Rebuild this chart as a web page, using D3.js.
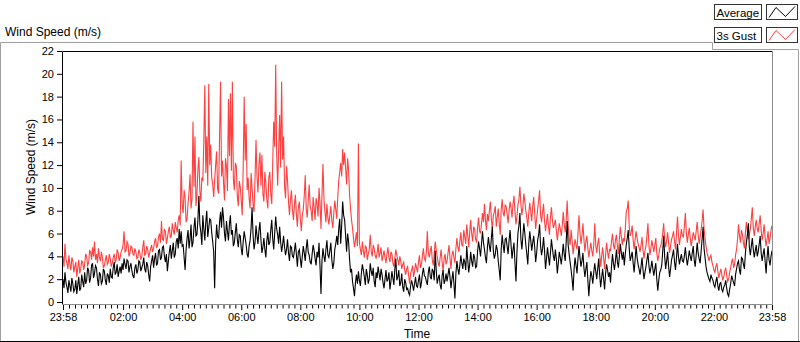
<!DOCTYPE html>
<html><head><meta charset="utf-8">
<script src="https://cdn.jsdelivr.net/npm/d3@7"></script>
<style>
html,body{margin:0;padding:0;background:#fff;}
svg{display:block;font-family:"Liberation Sans",Arial,sans-serif;}
</style></head><body>
<svg id="c" width="800" height="342"></svg>
<script>
// minutes between samples, starting at 23:58
const sampleMinutes = 2;
// 3s Gust (m/s), one row per hour
const gust = [
4.0,3.1,5.1,3.8,3.4,2.9,4.1,3.3,2.8,3.9,3.6,2.6,3.1,3.5,2.2,3.0,3.7,2.5,2.9,3.6,3.5,2.8,3.3,4.2,4.0,3.2,3.4,4.5,4.4,3.7,
4.8,4.0,5.3,3.7,4.2,3.4,4.7,3.9,3.6,4.4,3.9,3.0,3.2,3.7,4.1,3.3,3.5,4.2,3.8,3.1,3.4,3.9,4.2,3.5,3.7,4.6,4.3,3.6,3.9,4.4,
4.6,5.0,6.2,4.4,4.5,5.3,5.1,4.0,4.3,4.9,4.8,4.2,4.1,4.7,4.4,3.8,3.9,4.6,4.3,3.7,4.0,4.8,5.4,4.1,4.2,4.9,4.6,3.9,4.3,4.7,
5.0,4.4,4.7,5.3,5.6,4.8,4.9,5.7,6.0,5.2,7.1,5.5,5.4,6.4,6.2,5.1,5.6,6.2,6.6,5.6,5.8,6.9,6.3,5.9,7.0,6.5,6.1,7.2,7.6,6.7,
12.4,8.5,7.8,9.8,9.1,7.0,7.3,8.7,9.6,11.2,8.2,9.0,15.8,10.1,14.5,8.4,9.4,11.6,12.7,9.7,8.8,10.9,10.6,14.0,19.0,11.3,14.5,10.2,19.1,12.0,
13.8,10.9,10.4,9.2,10.7,12.0,13.2,9.9,9.5,14.6,19.3,11.0,12.4,10.5,8.9,12.6,11.9,9.7,17.8,12.8,18.3,11.5,19.3,10.8,9.8,12.2,11.9,9.3,8.4,10.6,
10.1,8.9,7.6,11.8,18.0,12.4,15.6,9.8,10.9,9.1,8.2,11.3,10.0,8.6,7.9,10.8,14.2,11.0,9.6,12.1,13.1,10.2,12.9,9.5,8.8,11.4,10.4,9.0,8.2,10.9,
11.4,9.5,8.6,12.3,15.8,13.6,20.8,12.9,10.2,13.4,16.4,11.8,19.3,12.5,14.5,10.1,9.1,11.9,10.7,8.8,7.6,9.0,9.8,8.1,7.2,8.5,9.4,7.7,6.6,8.3,
8.8,7.3,6.2,7.6,8.1,9.3,11.1,8.2,7.4,8.9,10.3,8.4,8.0,7.1,9.2,8.3,7.2,9.1,8.6,7.5,10.0,8.7,6.4,9.4,12.1,9.0,7.9,7.0,8.6,7.4,
6.8,7.6,8.4,7.1,6.5,7.8,8.9,8.1,7.3,9.2,10.6,11.4,12.2,11.0,13.4,12.0,13.1,11.7,10.3,12.6,11.6,9.4,8.2,7.2,6.5,5.6,4.8,5.4,6.1,4.9,
13.9,5.2,4.6,4.1,5.3,4.5,3.9,4.9,4.8,3.7,4.2,4.6,5.9,4.4,4.0,5.0,4.7,4.1,3.8,4.3,5.1,3.9,4.3,4.8,3.6,4.0,4.5,3.9,3.4,4.2,
4.8,3.9,3.5,4.4,4.2,3.4,3.1,3.8,4.6,4.1,3.7,3.2,4.0,3.6,2.9,3.3,3.5,2.8,2.4,2.9,3.1,2.3,1.6,2.5,2.8,3.2,2.2,2.7,3.4,3.0,
2.6,3.5,4.1,3.0,3.3,4.0,4.7,3.8,3.6,4.4,6.2,4.3,3.9,4.5,4.9,3.7,3.2,4.2,5.3,4.6,4.0,3.4,3.1,3.9,4.6,3.5,2.7,3.8,4.2,3.3,
3.6,4.3,5.0,3.8,2.9,4.1,4.5,3.9,3.4,4.7,5.6,4.8,4.4,5.3,6.1,5.0,4.9,6.3,5.7,5.1,6.8,5.9,4.8,6.1,7.2,6.0,5.3,6.6,6.4,5.5,
5.2,6.5,7.4,6.2,6.0,6.9,7.8,7.0,8.6,7.2,6.3,7.7,7.1,8.0,8.8,7.3,6.4,7.6,7.9,8.4,6.6,7.4,8.2,6.9,5.9,8.1,9.0,7.8,7.5,8.5,
8.4,7.7,6.9,8.0,8.8,8.2,7.4,8.6,9.3,7.9,6.8,7.5,8.5,9.0,10.1,8.6,7.6,8.3,9.5,8.8,8.0,7.4,6.6,7.8,8.7,7.9,7.1,8.4,9.2,7.8,
6.4,7.3,8.1,8.9,9.8,7.6,7.0,7.9,8.6,7.1,6.2,7.0,7.7,6.6,5.9,7.4,8.3,7.2,6.5,6.8,7.2,6.3,5.4,6.2,6.9,6.4,5.8,6.7,7.9,6.8,
6.1,7.2,8.9,6.8,5.6,5.0,6.3,5.4,4.2,4.9,5.5,5.0,4.6,6.1,7.6,6.0,5.1,5.8,6.9,5.5,4.4,5.3,5.8,4.7,3.9,4.6,5.2,4.5,4.0,5.0,
6.9,5.0,4.3,5.1,5.6,4.2,3.1,4.0,4.8,3.9,2.9,4.1,5.2,4.4,3.8,4.6,4.5,5.3,6.0,5.0,4.6,5.4,5.9,4.9,4.2,5.5,6.6,5.7,5.0,5.6,
5.3,6.4,7.9,8.2,8.9,6.6,5.8,6.1,6.7,5.4,4.6,5.5,6.2,5.6,5.1,4.8,4.4,5.0,5.7,4.6,3.8,4.5,4.9,5.8,6.9,5.0,4.1,4.7,5.4,4.9,
4.4,5.0,5.6,4.3,3.6,4.1,4.7,4.9,5.3,6.0,6.9,5.5,4.8,5.4,6.1,5.2,4.3,4.9,5.5,5.8,6.2,5.3,4.6,6.0,7.5,5.9,5.0,5.7,6.4,5.8,
5.7,6.6,7.8,6.1,5.2,5.9,6.5,5.6,4.9,5.5,6.1,5.8,5.4,6.2,7.0,5.9,5.1,5.7,6.3,7.1,8.1,6.4,5.6,4.9,4.3,4.0,3.6,3.9,4.1,3.5,
3.2,2.8,2.6,3.1,3.4,2.7,2.1,2.5,2.9,2.4,1.9,2.2,2.7,3.0,2.3,1.8,2.0,2.6,3.0,3.5,3.8,3.0,3.3,4.1,4.6,5.5,6.8,5.8,5.2,6.3,
5.9,5.2,4.7,6.1,7.0,6.2,5.5,5.9,6.4,7.3,8.3,6.5,5.8,6.6,7.2,6.4,6.1,6.9,7.6,6.3,5.4,6.0,6.8,5.7,4.9,5.5,6.2,5.1,5.6,6.3,6.7
];
// Average (m/s), one row per hour
const average = [
2.0,1.2,2.6,1.7,1.3,0.8,1.9,1.4,0.9,2.1,1.6,0.9,1.1,1.9,0.7,1.5,2.2,1.0,1.2,2.4,1.8,1.3,2.6,1.6,1.9,3.0,2.8,1.7,2.1,3.2,
3.4,2.1,2.5,3.2,3.0,2.0,1.4,2.6,2.4,1.6,1.8,2.9,2.7,1.9,1.5,2.5,2.3,1.7,2.9,2.2,2.1,3.0,3.5,2.4,2.6,3.3,2.2,2.7,3.1,2.5,
3.4,2.8,3.8,3.3,2.9,3.7,3.6,2.6,3.1,3.4,2.7,2.3,2.1,3.0,3.3,2.5,2.8,3.6,3.5,2.7,3.0,3.3,3.9,2.9,2.6,3.5,3.2,2.4,1.8,3.1,
3.6,4.1,3.0,3.8,4.3,3.2,3.4,4.5,4.6,3.7,3.9,4.8,4.9,4.0,3.5,4.2,2.7,3.6,4.4,5.0,3.8,4.5,5.2,3.9,4.2,5.3,5.6,4.7,6.4,5.1,
6.2,4.9,5.0,3.9,2.8,4.6,5.6,6.3,4.7,5.5,6.8,4.8,5.2,6.5,7.4,5.8,5.9,7.2,9.3,6.8,6.1,5.0,7.6,6.4,5.4,7.0,8.0,5.7,6.5,7.3,
7.2,6.1,5.3,4.4,1.2,5.1,6.8,5.7,5.6,7.0,7.9,6.5,8.3,7.4,6.0,5.3,7.1,6.2,5.4,6.8,7.6,5.9,6.3,4.9,5.2,6.1,6.9,5.5,4.8,5.9,
5.8,4.7,4.1,5.3,6.2,5.6,5.0,4.2,3.9,4.9,5.4,6.5,8.3,5.9,4.6,5.2,6.7,5.8,5.1,6.3,7.0,5.5,4.3,4.8,5.6,4.6,3.9,5.4,6.1,5.0,
5.2,6.3,7.2,5.5,4.6,6.1,7.5,6.4,5.9,5.1,6.6,5.3,4.4,5.0,5.8,4.8,4.1,4.6,5.5,4.3,3.6,4.9,4.8,4.0,3.9,4.5,5.2,4.2,3.1,4.4,
4.6,3.8,3.0,4.0,4.9,4.3,3.6,4.7,5.5,4.4,4.1,3.5,3.3,4.2,5.0,4.5,3.8,3.2,4.4,3.9,5.2,3.1,0.7,3.6,4.7,4.0,3.5,4.6,5.4,4.1,
3.9,4.5,5.2,3.7,2.9,3.4,4.6,5.1,5.8,5.0,6.4,7.3,5.1,6.7,8.8,7.6,7.2,5.8,4.4,6.0,5.3,3.8,2.6,2.9,1.8,1.2,0.5,1.7,2.4,1.6,
2.7,1.9,1.4,2.5,3.3,2.8,2.2,1.5,2.9,2.4,1.6,2.0,3.4,2.7,2.3,3.0,1.8,1.3,2.6,2.1,3.1,2.5,1.9,2.9,2.4,1.7,1.2,2.0,2.8,1.8,
2.0,2.6,1.1,1.8,2.7,2.1,1.5,2.9,3.8,1.9,2.2,2.8,1.4,1.7,2.5,1.3,0.9,2.0,1.7,1.1,1.2,0.8,0.6,1.4,1.9,1.5,1.0,1.6,2.2,1.4,
1.3,1.9,2.4,1.2,1.7,2.5,3.0,2.3,2.2,1.8,1.5,2.6,3.1,2.2,2.0,2.9,2.7,1.9,4.5,2.8,1.6,2.1,2.4,1.5,1.1,2.3,2.8,1.6,1.9,2.5,
1.8,2.4,3.0,2.2,1.2,2.0,2.7,1.6,0.3,2.5,3.6,2.9,2.4,3.2,4.1,3.4,2.9,3.8,3.5,2.8,4.9,3.7,2.6,3.3,4.4,3.6,3.1,4.2,3.9,3.0,
3.1,4.4,5.3,4.7,4.0,5.1,6.2,5.2,4.6,3.9,3.4,4.8,5.7,4.9,4.4,5.6,6.6,4.5,3.8,4.2,5.0,4.6,3.6,2.8,1.9,4.6,5.9,5.0,4.3,5.5,
5.6,4.9,4.2,5.4,6.3,5.0,3.8,4.6,5.2,3.4,1.8,4.4,6.0,6.7,7.8,5.5,4.6,5.8,6.9,6.0,5.0,4.2,3.3,5.1,6.2,5.4,4.5,5.2,5.8,4.8,
3.5,4.3,5.4,5.9,6.8,4.9,4.1,4.7,5.7,4.5,2.9,3.8,4.8,4.0,3.2,4.3,5.5,4.7,4.0,3.6,4.6,3.8,2.5,3.4,4.4,3.9,3.3,4.1,5.1,4.2,
3.6,5.3,7.1,5.0,4.2,3.5,2.8,2.0,1.0,2.9,3.9,3.2,2.5,3.8,4.9,3.9,3.1,3.6,4.3,3.0,2.2,2.9,3.5,1.9,0.5,1.8,2.7,2.3,1.6,2.6,
3.4,2.7,2.0,2.9,3.8,2.4,1.3,2.1,2.9,2.0,1.1,2.5,3.3,2.8,2.2,2.6,1.7,3.1,4.2,3.4,2.8,3.6,4.6,3.5,3.0,4.0,5.1,4.3,3.7,4.4,
3.2,4.2,5.0,5.6,6.3,4.7,3.6,4.0,4.4,3.4,2.6,3.7,4.9,3.9,3.3,2.9,2.4,3.1,3.9,2.8,2.0,2.6,3.1,3.7,4.3,3.2,2.5,3.0,3.6,2.9,
2.3,2.9,3.4,2.0,1.0,1.9,2.6,2.8,3.2,4.4,5.8,4.0,2.9,3.6,4.4,3.1,2.2,2.9,3.7,4.1,4.6,3.5,2.8,3.9,5.1,4.0,3.3,3.8,4.2,3.6,
3.5,4.0,4.8,3.9,3.2,3.8,4.5,4.0,3.6,4.3,4.9,3.7,3.1,4.1,5.2,4.3,3.8,3.4,4.4,5.5,6.6,4.7,3.9,3.1,2.6,2.3,2.0,1.8,2.4,2.1,
1.9,1.5,1.3,1.8,2.2,1.4,1.0,1.6,1.7,1.1,0.9,1.3,1.5,1.9,1.2,0.7,0.5,1.1,1.6,2.3,2.0,1.7,1.4,2.4,2.9,3.4,3.6,2.8,2.4,3.9,
3.8,3.3,2.9,4.3,5.2,5.9,6.9,4.8,4.1,4.9,5.6,4.6,3.9,4.5,5.0,4.0,4.4,5.1,5.8,4.3,3.6,4.2,4.7,3.6,2.5,3.9,4.9,3.7,3.2,4.0,4.5
];
const tickMinutes = [0,122,242,362,482,602,722,842,962,1082,1202,1322,1440];
const tickLabels = ["23:58","02:00","04:00","06:00","08:00","10:00","12:00","14:00","16:00","18:00","20:00","22:00","23:58"];
const yTicks = [0,2,4,6,8,10,12,14,16,18,20,22];
const seriesNames = ["Average","3s Gust"];
const seriesColors = ["#000000","#ff4040"];

const svg = d3.select("#c");
const x = d3.scaleLinear().domain([0,1440]).range([63,772]);
const y = d3.scaleLinear().domain([0,22]).range([302,51]);

// outer panel frame
svg.append("path").attr("d","M0.5,341 V42.5 H712.5 V49.5 H798.5 V341")
  .attr("fill","none").attr("stroke","#a0a0a0");
svg.append("line").attr("x1",0).attr("x2",800).attr("y1",341.5).attr("y2",341.5).attr("stroke","#000");

// title
svg.append("text").attr("x",5).attr("y",36).attr("font-size","12px").attr("fill","#000").text("Wind Speed (m/s)");

// plot area background
svg.append("rect").attr("x",62.5).attr("y",51.5).attr("width",710).attr("height",253).attr("fill","#fff").attr("stroke","none");

// data lines
const line = d3.line().x((d,i)=>x(i*sampleMinutes)).y(d=>y(d));
svg.append("path").datum(gust).attr("d",line).attr("fill","none").attr("stroke",seriesColors[1])
  .attr("stroke-width",1.1);
svg.append("path").datum(average).attr("d",line).attr("fill","none").attr("stroke",seriesColors[0])
  .attr("stroke-width",1.1);

svg.append("path").attr("d","M62.5,305 V51.5 H772.5").attr("fill","none").attr("stroke","#000");
svg.append("path").attr("d","M772.5,51.5 V304.5 H62").attr("fill","none").attr("stroke","#8c8c8c");

// y axis
const yAxis = d3.axisLeft(y).tickValues(yTicks).tickSize(5).tickPadding(3).tickFormat(d3.format("d"));
const gy = svg.append("g").attr("transform","translate(62,0)").call(yAxis);
gy.select(".domain").remove();
gy.selectAll("text").attr("font-size","11px").attr("font-family","Liberation Sans, Arial, sans-serif").attr("fill","#000");
gy.selectAll("line").attr("stroke","#000");

// x axis minor ticks
const minor = [];
for (let k=0;k<tickMinutes.length-1;k++){
  const a=tickMinutes[k], b=tickMinutes[k+1];
  for (let j=1;j<10;j++) minor.push(a+(b-a)*j/10);
}
const gxm = svg.append("g").attr("transform","translate(0,305)")
  .call(d3.axisBottom(x).tickValues(minor).tickSize(3.5).tickFormat(""));
gxm.select(".domain").remove();
gxm.selectAll("line").attr("stroke","#000");

const xAxis = d3.axisBottom(x).tickValues(tickMinutes).tickSize(5).tickPadding(3)
  .tickFormat((d,i)=>tickLabels[i]);
const gx = svg.append("g").attr("transform","translate(0,305)").call(xAxis);
gx.select(".domain").remove();
gx.selectAll("line").attr("stroke","#000");
gx.selectAll("text").attr("font-size","11px").attr("font-family","Liberation Sans, Arial, sans-serif").attr("fill","#000");

// axis titles
svg.append("text").attr("x",417).attr("y",338).attr("text-anchor","middle").attr("font-size","12px").attr("fill","#000").text("Time");
svg.append("text").attr("transform","translate(35,167) rotate(-90)").attr("text-anchor","middle").attr("font-size","12px").attr("fill","#000").text("Wind Speed (m/s)");

// legend
const lg = svg.append("g");
seriesNames.forEach((name,i)=>{
  const yy = 4.5 + i*23;
  lg.append("rect").attr("x",714.5).attr("y",yy).attr("width",47).attr("height",15).attr("fill","#fff").attr("stroke","#333");
  lg.append("text").attr("x",716.5).attr("y",yy+12).attr("font-size","11.5px").attr("fill","#000").text(name);
  lg.append("rect").attr("x",766.5).attr("y",yy).attr("width",31).attr("height",15).attr("fill","#fff").attr("stroke","#333");
  lg.append("path").attr("d",`M769,${yy+13} L776,${yy+3} L785.5,${yy+12} L795,${yy+2}`)
    .attr("fill","none").attr("stroke",seriesColors[i]).attr("stroke-width",1);
});
</script>
</body></html>
